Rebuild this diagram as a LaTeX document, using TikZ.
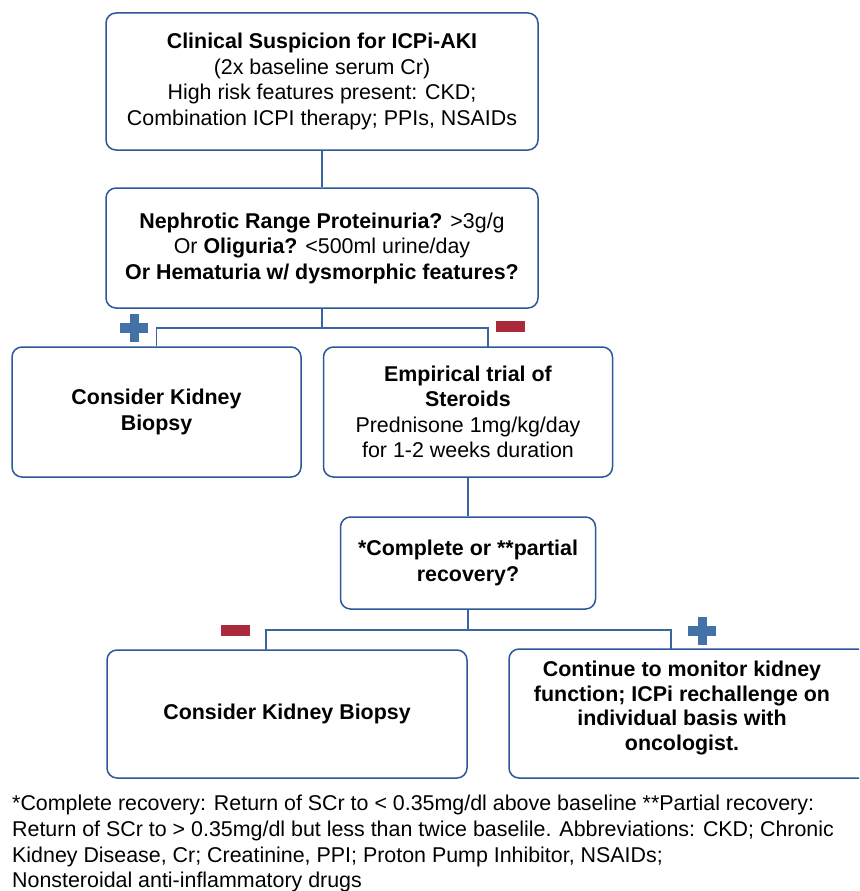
\documentclass[tikz,border=0pt]{standalone}
\usepackage{fontspec}
\setmainfont{Liberation Sans}
\definecolor{boxblue}{RGB}{44,88,155}
\definecolor{lineblue}{RGB}{58,100,162}
\definecolor{plusblue}{RGB}{66,114,168}
\definecolor{minusred}{RGB}{170,41,58}
\tikzset{
  box/.style={draw=boxblue, line width=1.5pt, rounded corners=10pt, fill=white,
    align=center, inner sep=0pt, font=\fontsize{21.4}{25.5}\selectfont},
  txt/.style={align=center, inner sep=0pt, font=\fontsize{21.4}{24.5}\selectfont},
  conn/.style={draw=lineblue, line width=1.5pt},
  plussign/.pic={
    \fill[plusblue] (-14,-5) rectangle (14,5);
    \fill[plusblue] (-4.5,-14) rectangle (4.5,14);
  },
  minussign/.pic={
    \fill[minusred] (-14.5,-5.5) rectangle (14.5,5.5);
  }
}
\begin{document}
\begin{tikzpicture}[x=1pt,y=-1pt]
\useasboundingbox (0,0) rectangle (859,891);

\node[box, minimum width=432pt, minimum height=137pt] (b1) at (322,81.5)
  {\textbf{Clinical Suspicion for ICPi-AKI}\\(2x baseline serum Cr)\\High risk features present: CKD;\\Combination ICPI therapy; PPIs, NSAIDs};

\node[box, minimum width=432pt, minimum height=120pt] (b2) at (322,248)
  {\textbf{Nephrotic Range Proteinuria?} >3g/g\\Or \textbf{Oliguria?} <500ml urine/day\\\textbf{Or Hematuria w/ dysmorphic features?}};

\node[box, minimum width=289pt, minimum height=130pt] (b3) at (156.5,412)
  {\textbf{Consider Kidney}\\\textbf{Biopsy}};

\node[box, minimum width=289pt, minimum height=130pt] (b4) at (468,412)
  {\textbf{Empirical trial of}\\\textbf{Steroids}\\Prednisone 1mg/kg/day\\for 1-2 weeks duration};

\node[box, minimum width=255pt, minimum height=92pt] (b5) at (468,563)
  {\textbf{*Complete or **partial}\\\textbf{recovery?}};

\node[box, minimum width=360pt, minimum height=128pt] (b6) at (287,714)
  {\textbf{Consider Kidney Biopsy}};

\begin{scope}
\clip (0,0) rectangle (859,891);
\node[box, minimum width=366pt, minimum height=129pt] (b7) at (692,713.5) {};
\end{scope}
\node[txt] (t7) at (682,708)
  {\textbf{Continue to monitor kidney}\\\textbf{function; ICPi rechallenge on}\\\textbf{individual basis with}\\\textbf{oncologist.}};

% connectors
\coordinate (j1) at (322,328);
\coordinate (r1) at (488,347);
\draw[conn] (b1.south) -- (b2.north);
\draw[conn] (b2.south) -- (j1);
\draw[conn] (b3.north) |- (j1) -| (r1);

\coordinate (j2) at (468,630);
\coordinate (l2) at (266,650);
\coordinate (r2) at (671,649);
\draw[conn] (b4.south) -- (b4.south |- b5.north);
\draw[conn] (b5.south) -- (j2);
\draw[conn] (l2) |- (j2) -| (r2);

% signs
\pic at (134,328) {plussign};
\pic at (510.5,326.5) {minussign};
\pic at (235.5,630.5) {minussign};
\pic at (702,631) {plussign};

% footnote
\node[anchor=north west, align=left, inner sep=0pt, font=\fontsize{21.4}{25.7}\selectfont] (fn) at (12,795)
  {*Complete recovery: Return of SCr to < 0.35mg/dl above baseline **Partial recovery:\\
   Return of SCr to > 0.35mg/dl but less than twice baselile. Abbreviations: CKD; Chronic\\
   Kidney Disease, Cr; Creatinine, PPI; Proton Pump Inhibitor, NSAIDs;\\
   Nonsteroidal anti-inflammatory drugs};
\end{tikzpicture}
\end{document}
